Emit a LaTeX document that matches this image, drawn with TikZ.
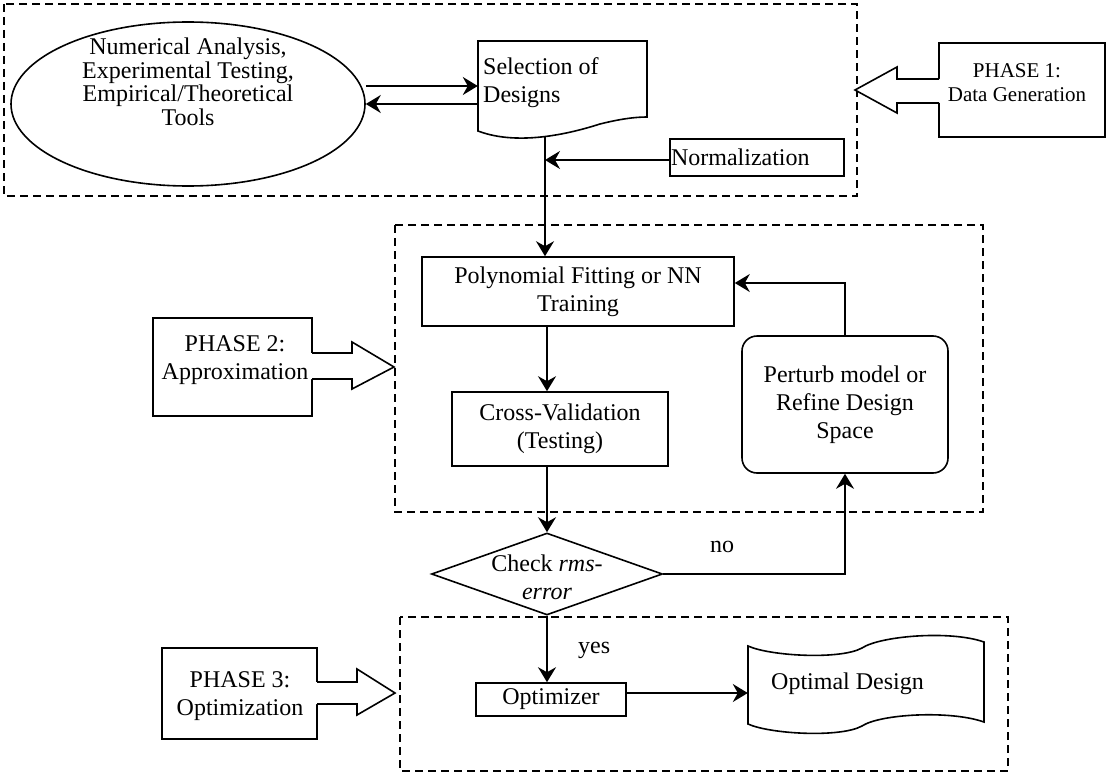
\documentclass[tikz,border=0pt]{standalone}
\usepackage{fontspec}
\setmainfont{Liberation Serif}
\usetikzlibrary{arrows.meta,shapes.geometric}
\tikzset{
  ln/.style={line width=1.6pt},
  arr/.style={ln, -{Stealth[length=15pt,width=18pt,inset=5pt]}},
  bx/.style={draw, ln, rectangle, inner sep=0pt, align=center},
  dbox/.style={ln, dash pattern=on 8pt off 5pt},
  txt/.style={inner sep=0pt, align=center},
  blk/.style={ln, line join=miter},
}
\begin{document}
\begin{tikzpicture}[x=1pt,y=-1pt, font=\fontsize{24}{28}\selectfont]
\useasboundingbox (0,0) rectangle (1107,773);

% dashed phase groups
\draw[dbox] (4,4) rectangle (857,196);
\draw[dbox] (395,225) rectangle (983,512);
\draw[dbox] (400,617) rectangle (1008,771);

% ---------- Phase 1 ----------
\node[ellipse, draw, ln, inner sep=0pt, minimum width=354, minimum height=164] (src) at (188,104) {};
\node[txt, font=\fontsize{24}{23.5}\selectfont] (srctxt) at (188,82)
  {Numerical Analysis,\\Experimental Testing,\\Empirical/Theoretical\\Tools};

\node[inner sep=0pt, minimum width=169, minimum height=96] (sel) at (562.5,89) {};
\draw[ln, line join=miter] (478,131) -- (478,41) -- (647,41) -- (647,117)
  .. controls (635,117) and (620,119) .. (600,124)
  .. controls (575,132) and (520,147) .. (478,131) -- cycle;
\node[txt, align=left, anchor=west] (seltxt) at (483,83) {Selection of\\Designs};
\coordinate (selbot) at (545,136.5);

\node[bx, minimum width=174, minimum height=37, text width=172, inner xsep=1pt, align=left] (norm) at (757,157.5) {Normalization};

\draw[arr] (src.east |- 0,86) -- (sel.west |- 0,86);
\draw[arr] (sel.west |- 0,104) -- (src.east |- 0,104);
\draw[arr] (norm.west |- 0,160) -- (selbot |- 0,160);

\node[bx, minimum width=166, minimum height=94] (p1) at (1022,90) {};
\node[txt, font=\fontsize{21}{24}\selectfont] (p1t) at (1017,83) {PHASE 1:\\Data Generation};
\fill[white] (941,79) -- (897,79) -- (897,67) -- (855,90) -- (897,113) -- (897,103) -- (941,103) -- cycle;
\draw[blk] (939,79) -- (897,79) -- (897,67) -- (855,90) -- (897,113) -- (897,103) -- (939,103);

% ---------- Phase 2 ----------
\node[bx, minimum width=312, minimum height=69] (poly) at (578,291.5) {Polynomial Fitting or NN\\Training};
\node[bx, minimum width=216, minimum height=74] (cv) at (560,429) {Cross-Validation\\(Testing)};
\node[bx, rounded corners=15pt, minimum width=206, minimum height=137] (pert) at (845,404.5) {Perturb model or\\Refine Design\\Space};

\node[diamond, draw, ln, inner sep=0pt, minimum width=231, minimum height=82] (chk) at (547,574) {};
\node[txt] (chktxt) at (547,577) {Check \textit{rms-}\\\textit{error}};

\draw[arr] (selbot) -- (selbot |- poly.north);
\draw[arr] (poly.south -| chk) -- (cv.north -| chk);
\draw[arr] (cv.south -| chk) -- (chk.north);
\draw[arr] (pert.north) -- (pert.north |- 0,283) -- (poly.east |- 0,283);
\draw[arr] (chk.east) -| (pert.south);
\node[txt, anchor=base west] (nolbl) at (710,552) {no};

\node[bx, minimum width=159, minimum height=98] (p2) at (232.5,367) {};
\node[txt] (p2t) at (235,360) {PHASE 2:\\Approximation};
\fill[white] (310,353) -- (352,353) -- (352,342) -- (394,367) -- (352,389) -- (352,379) -- (310,379) -- cycle;
\draw[blk] (312,353) -- (352,353) -- (352,342) -- (394,367) -- (352,389) -- (352,379) -- (312,379);

% ---------- Phase 3 ----------
\node[bx, minimum width=150, minimum height=33] (opt) at (551,699.5) {Optimizer};
\draw[arr] (chk.south) -- (chk.south |- opt.north);
\node[txt, anchor=base west] (yeslbl) at (578,653) {yes};

\node[inner sep=0pt, minimum width=236, minimum height=78] (optd) at (866,685) {};
\draw[ln] (748,646) .. controls (770,656) and (840,660) .. (862,648)
  .. controls (880,636) and (950,630) .. (984,642) -- (984,722)
  .. controls (950,710) and (880,714) .. (862,726)
  .. controls (840,738) and (770,734) .. (748,724) -- cycle;
\node[txt] (optdtxt) at (847.5,683.5) {Optimal Design};
\draw[arr] (opt.east |- 0,693) -- (optd.west |- 0,693);

\node[bx, minimum width=155, minimum height=91] (p3) at (239.5,693.5) {};
\node[txt] (p3t) at (240,696) {PHASE 3:\\Optimization};
\fill[white] (315,682) -- (357,682) -- (357,669) -- (395,693) -- (357,715) -- (357,704) -- (315,704) -- cycle;
\draw[blk] (317,682) -- (357,682) -- (357,669) -- (395,693) -- (357,715) -- (357,704) -- (317,704);
\end{tikzpicture}
\end{document}
